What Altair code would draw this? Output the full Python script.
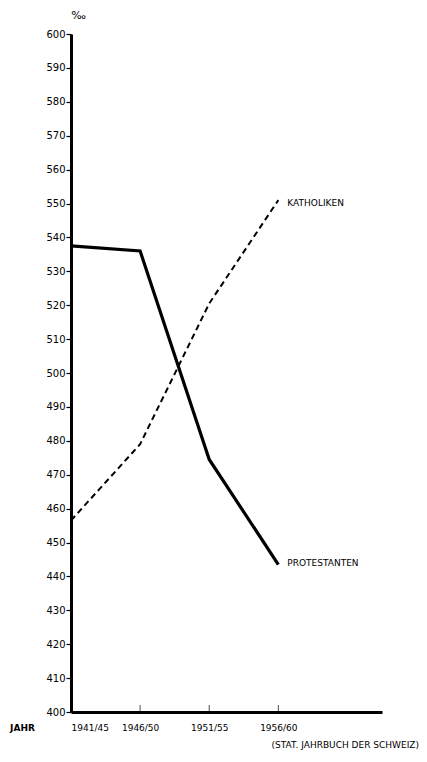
import altair as alt
import pandas as pd

periods = ["1941/45", "1946/50", "1951/55", "1956/60"]
period_idx = [0, 1, 2, 3]
protestanten = [537.5, 536.0, 474.5, 443.5]
katholiken = [456.5, 479.0, 520.5, 551.0]
series_names = ["PROTESTANTEN", "KATHOLIKEN"]
y_ticks = list(range(400, 601, 10))

rows = []
for name, vals in zip(series_names, [protestanten, katholiken]):
    for i, p, v in zip(period_idx, periods, vals):
        rows.append({"idx": i, "period": p, "value": v, "series": name})
df = pd.DataFrame(rows)

label_expr = "[" + ",".join("'%s'" % p for p in periods) + "][datum.value]"
FONT = "DejaVu Sans"

x_enc = alt.X("idx:Q",
              scale=alt.Scale(domain=[0, 4.5], nice=False, zero=False),
              axis=alt.Axis(values=period_idx, labelExpr=label_expr, tickSize=0,
                            domainWidth=3, domainColor="black", labelPadding=11,
                            labelFontSize=9, labelFont=FONT, labelColor="black",
                            labelOverlap=False,
                            title="JAHR", titleFontSize=9, titleFont=FONT,
                            titleFontWeight="bold", titleX=-49, titleY=15,
                            titleBaseline="middle",
                            titleAlign="center", grid=False))
y_enc = alt.Y("value:Q",
              scale=alt.Scale(domain=[400, 600], nice=False, zero=False),
              axis=alt.Axis(values=y_ticks, tickSize=5,
                            tickWidth=1.2, tickColor="black", domainWidth=3,
                            domainColor="black", labelFontSize=10, labelFont=FONT,
                            labelColor="black", labelPadding=1, labelOverlap=False,
                            title="‰", titleAngle=0, titleX=7, titleY=-19,
                            titleBaseline="middle",
                            titleFontSize=11, titleFont=FONT, titleFontWeight="normal",
                            titleAlign="center", grid=False))

prot = alt.Chart(df[df.series == "PROTESTANTEN"]).mark_line(
    color="black", strokeWidth=3.2, strokeJoin="miter").encode(x=x_enc, y=y_enc)
kath = alt.Chart(df[df.series == "KATHOLIKEN"]).mark_line(
    color="black", strokeWidth=2, strokeDash=[6, 4]).encode(x=x_enc, y=y_enc)

last = df[df.idx == 3]
label_p = alt.Chart(last[last.series == "PROTESTANTEN"]).mark_text(
    align="left", baseline="middle", dx=9, dy=-2, font=FONT, fontSize=9, color="black"
).encode(x=x_enc, y=y_enc, text="series:N")
label_k = alt.Chart(last[last.series == "KATHOLIKEN"]).mark_text(
    align="left", baseline="middle", dx=9, dy=3, font=FONT, fontSize=9, color="black"
).encode(x=x_enc, y=y_enc, text="series:N")

ticks_df = pd.DataFrame({"idx": period_idx[1:], "value": [400] * 3})
xticks = alt.Chart(ticks_df).mark_tick(
    orient="vertical", color="black", size=8, thickness=1, yOffset=-3
).encode(x=x_enc, y=y_enc)

chart = alt.layer(prot, kath, label_p, label_k, xticks).properties(
    width=311, height=678,
    background="white",
    autosize=alt.AutoSizeParams(type="none"),
    padding={"left": 63, "top": 26, "right": 37, "bottom": 46},
    title=alt.TitleParams("(STAT. JAHRBUCH DER SCHWEIZ)", orient="bottom",
                          anchor="end", fontSize=9, font=FONT,
                          fontWeight="normal", dx=37, offset=9, color="black"),
).configure_view(strokeWidth=0, stroke="transparent")

chart.save("out.html", embed_options={"renderer": "svg", "actions": False})
